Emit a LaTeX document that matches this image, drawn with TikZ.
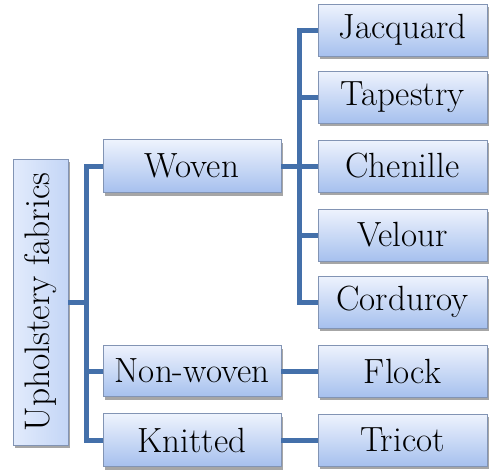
\documentclass[tikz,border=0pt]{standalone}
\usetikzlibrary{shadows}
\definecolor{linec}{HTML}{4470AA}
\definecolor{boxtop}{HTML}{EEF3FD}
\definecolor{boxbot}{HTML}{A6C0EE}
\definecolor{rootl}{HTML}{E2EBFC}
\definecolor{rootr}{HTML}{C4D6F6}
\definecolor{boxborder}{HTML}{8294B4}
\tikzset{
  basebox/.style={draw=boxborder, line width=0.8pt,
    inner sep=0pt, outer sep=0pt, text=black,
    font=\rmfamily\fontsize{35}{40}\selectfont,
    drop shadow={shadow xshift=1.5pt, shadow yshift=-3pt, fill=black, opacity=0.35}},
  fbox/.style={basebox, top color=boxtop, bottom color=boxbot},
  rootbox/.style={basebox, left color=rootl, right color=rootr,
    font=\rmfamily\fontsize{35.5}{41}\selectfont},
  leftbox/.style={fbox, minimum width=178pt, minimum height=53pt},
  rightbox/.style={fbox, minimum width=169pt, minimum height=52pt},
  conn/.style={draw=linec, line width=5pt},
}
\begin{document}
\begin{tikzpicture}[x=1pt,y=-1pt]
\useasboundingbox (0,0) rectangle (490,471);
% root
\node[rootbox, minimum width=55pt, minimum height=286pt] (root) at (40.5,302)
  {\rotatebox{90}{Upholstery fabrics}};
\node[leftbox] (woven) at (192,166) {Woven};
\node[leftbox, minimum height=51pt] (nonwoven) at (192,371) {Non-woven};
\node[leftbox] (knitted) at (192,440) {Knitted};
\node[rightbox] (jac) at (402.5,30) {Jacquard};
\node[rightbox] (tap) at (402.5,97) {Tapestry};
\node[rightbox] (che) at (402.5,166) {Chenille};
\node[rightbox] (vel) at (402.5,235) {Velour};
\node[rightbox] (cor) at (402.5,302) {Corduroy};
\node[rightbox] (flo) at (402.5,371) {Flock};
\node[rightbox] (tri) at (402.5,440) {Tricot};
% connectors
\coordinate (t1) at (86,302);
\coordinate (t2) at (299,166);
\draw[conn] (root.east) -- (t1);
\draw[conn] (woven.west) -| (t1) |- (knitted.west);
\draw[conn] (t1 |- nonwoven.west) -- (nonwoven.west);
\draw[conn] (woven.east) -- (che.west);
\draw[conn] (jac.west) -| (t2) |- (cor.west);
\draw[conn] (t2 |- tap.west) -- (tap.west);
\draw[conn] (t2 |- vel.west) -- (vel.west);
\draw[conn] (nonwoven.east) -- (flo.west);
\draw[conn] (knitted.east) -- (tri.west);
\end{tikzpicture}
\end{document}
